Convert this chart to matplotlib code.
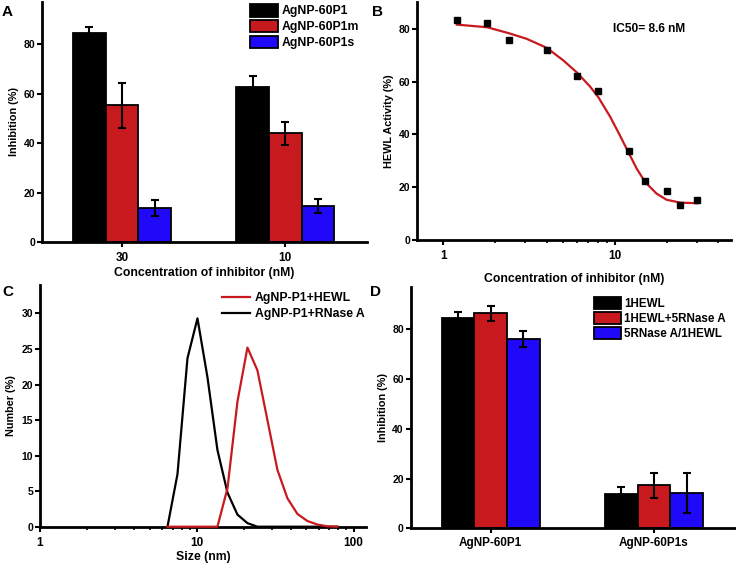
import matplotlib
matplotlib.use("Agg")
import matplotlib.pyplot as plt
import numpy as np
from matplotlib.ticker import FixedLocator, NullFormatter

plt.rcParams["font.family"] = ["Liberation Sans", "DejaVu Sans"]
plt.rcParams["font.weight"] = "bold"
plt.rcParams["axes.labelweight"] = "bold"

RED = "#C8191E"
BLUE = "#2008F8"

# panel A
a_groups = ["30", "10"]
a_series = ["AgNP-60P1", "AgNP-60P1m", "AgNP-60P1s"]
a_values = [[84.6, 62.8], [55.2, 43.9], [13.7, 14.5]]
a_errors = [[2.4, 4.4], [9.1, 4.8], [3.3, 2.9]]

# panel B
b_conc = [1.2, 1.8, 2.4, 4, 6, 8, 12, 15, 20, 24, 30]
b_activity = [83.3, 82.3, 76.0, 72.1, 62.1, 56.3, 33.7, 22.1, 18.3, 13.3, 15.1]
b_fit_x = [1.2, 1.8, 2.39, 3.06, 4.0, 5.0, 5.98, 7.15, 8.0, 9.35, 10.7,
           11.96, 13.4, 15.0, 17.5, 20.0, 24.1, 30.2]
b_fit_y = [81.7, 80.7, 78.5, 76.3, 72.9, 68.1, 63.6, 58.2, 54.1, 46.8, 39.5,
           33.2, 26.9, 21.8, 17.4, 15.1, 14.0, 13.8]

# panel C
c_size = [6.503, 7.531, 8.721, 10.1, 11.7, 13.54, 15.69, 18.17, 21.04, 24.36,
          28.21, 32.67, 37.84, 43.82, 50.75, 58.77, 68.06, 78.82]
c_hewl = [0, 0, 0, 0, 0, 0, 5.4, 17.6, 25.2, 22.0,
          15.0, 8.0, 4.0, 1.8, 0.8, 0.3, 0.05, 0]
c_rnase = [0, 7.4, 23.7, 29.3, 21.0, 10.8, 4.8, 1.7, 0.5, 0,
           0, 0, 0, 0, 0, 0, 0, 0]

# panel D
d_groups = ["AgNP-60P1", "AgNP-60P1s"]
d_series = ["1HEWL", "1HEWL+5RNase A", "5RNase A/1HEWL"]
d_values = [[84.6, 13.9], [86.4, 17.3], [76.2, 14.2]]
d_errors = [[2.2, 2.9], [3.0, 5.1], [3.3, 8.1]]

bar_colors = ["black", RED, BLUE]

fig = plt.figure(figsize=(7.36, 5.68), dpi=100)


def style_axes(ax):
    for side in ("top", "right"):
        ax.spines[side].set_visible(False)
    for side in ("left", "bottom"):
        ax.spines[side].set_linewidth(2.0)
    ax.tick_params(axis="both", which="major", direction="out", length=3.5, width=1.5)
    ax.tick_params(axis="both", which="minor", direction="out", length=2.0, width=1.2)
    ax.tick_params(axis="y", labelsize=7.5, pad=1.5)
    ax.tick_params(axis="x", labelsize=8.5, pad=4)


def bar_panel(ax, groups, series, values, errors, loc, fs):
    x = np.arange(len(groups))
    w = 0.2
    handles = []
    for i, name in enumerate(series):
        bars = ax.bar(x + (i - 1) * w, values[i], w, color=bar_colors[i],
                      edgecolor="black", linewidth=1.3, label=name, zorder=2)
        ax.errorbar(x + (i - 1) * w, values[i], yerr=errors[i], fmt="none",
                    ecolor="black", elinewidth=1.5, capsize=3.2, capthick=1.5,
                    zorder=3)
        handles.append(bars)
    ax.set_xlim(-0.49, 1.5)
    ax.set_ylim(0, 97)
    ax.set_yticks([0, 20, 40, 60, 80])
    ax.set_xticks(x)
    ax.set_xticklabels(groups)
    ax.set_ylabel("Inhibition (%)", fontsize=7.8, labelpad=3)
    style_axes(ax)
    fig.legend(handles=handles, labels=series, loc="upper left",
               bbox_to_anchor=loc, frameon=False,
               handlelength=2.3, handleheight=1.2, handletextpad=0.3,
               labelspacing=0.2, borderpad=0, borderaxespad=0,
               prop={"weight": "bold", "size": fs})


# A
axA = fig.add_axes([42 / 736, 1 - 242 / 568, 325 / 736, 240 / 568])
bar_panel(axA, a_groups, a_series, a_values, a_errors, (250 / 736, 1 - 4 / 568), 8.8)
axA.set_xlabel("Concentration of inhibitor (nM)", fontsize=8.8, labelpad=2)

# B
axB = fig.add_axes([417 / 736, 1 - 239.5 / 568, 314 / 736, 237.5 / 568])
axB.set_xscale("log")
axB.plot(b_fit_x, b_fit_y, color=RED, lw=1.6, zorder=2)
axB.plot(b_conc, b_activity, "s", color="black", ms=4, zorder=3)
axB.set_xlim(0.703, 47.4)
axB.set_ylim(0, 90.3)
axB.set_yticks([0, 20, 40, 60, 80])
axB.xaxis.set_major_locator(FixedLocator([1, 10]))
axB.xaxis.set_minor_locator(FixedLocator([2, 3, 4, 5, 6, 7, 8, 9, 20, 30, 40]))
axB.xaxis.set_minor_formatter(NullFormatter())
axB.set_xticklabels(["1", "10"])
axB.set_ylabel("HEWL Activity (%)", fontsize=7.8, labelpad=3)
axB.set_xlabel("Concentration of inhibitor (nM)", fontsize=8.8, labelpad=8)
axB.text(9.7, 80.2, "IC50= 8.6 nM", fontsize=8.6, fontweight="bold", va="center")
style_axes(axB)

# C
axC = fig.add_axes([40 / 736, 1 - 526.7 / 568, 326 / 736, 241.7 / 568])
axC.set_xscale("log")
lr, = axC.plot(c_size, c_rnase, color="black", lw=1.6, zorder=3, clip_on=False)
lh, = axC.plot(c_size, c_hewl, color=RED, lw=1.6, zorder=3, clip_on=False)
axC.set_xlim(1, 120)
axC.set_ylim(0, 34)
axC.set_yticks([0, 5, 10, 15, 20, 25, 30])
axC.xaxis.set_major_locator(FixedLocator([1, 10, 100]))
axC.xaxis.set_minor_locator(FixedLocator([2, 3, 4, 5, 6, 7, 8, 9,
                                          20, 30, 40, 50, 60, 70, 80, 90]))
axC.xaxis.set_minor_formatter(NullFormatter())
axC.set_xticklabels(["1", "10", "100"])
axC.set_ylabel("Number (%)", fontsize=7.8, labelpad=4)
axC.set_xlabel("Size (nm)", fontsize=8.8, labelpad=1)
style_axes(axC)
fig.legend(handles=[lh, lr], labels=["AgNP-P1+HEWL", "AgNP-P1+RNase A"],
           loc="upper left", bbox_to_anchor=(222 / 736, 1 - 292 / 568),
           frameon=False, handlelength=2.3, handletextpad=0.4,
           labelspacing=0.35, borderpad=0, borderaxespad=0,
           prop={"weight": "bold", "size": 8.8})

# D
axD = fig.add_axes([410.7 / 736, 1 - 528.3 / 568, 325 / 736, 241.3 / 568])
bar_panel(axD, d_groups, d_series, d_values, d_errors, (594 / 736, 1 - 297 / 568), 8.4)
axD.tick_params(axis="x", pad=3)

for label, x, y in [("A", 2, 12), ("B", 372, 12), ("C", 2, 292), ("D", 370, 292)]:
    fig.text(x / 736, 1 - y / 568, label, fontsize=11, fontweight="bold",
             va="center", ha="left")

fig.savefig("out.png", dpi=100)
